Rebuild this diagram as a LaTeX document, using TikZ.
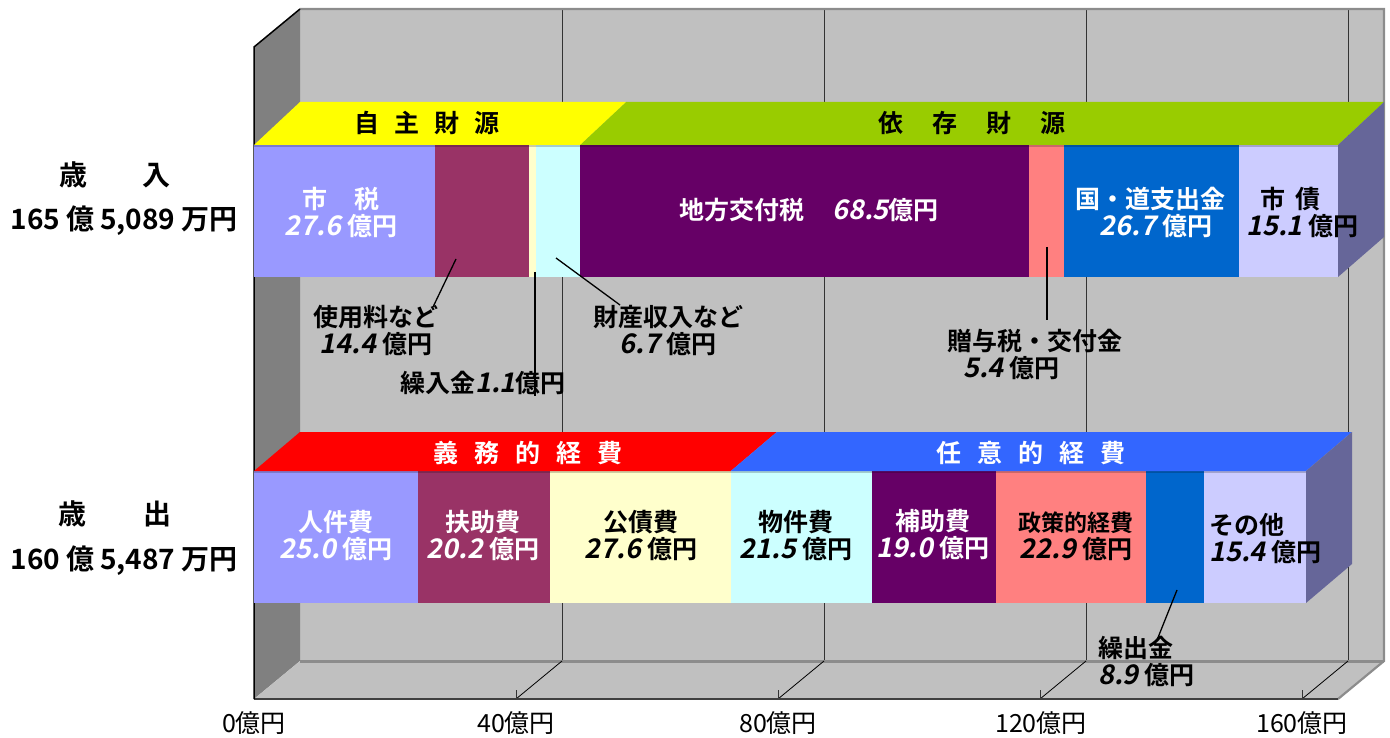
\documentclass[tikz,border=0pt]{standalone}
\usepackage{fontspec}
\newfontfamily\jpr{Noto Sans CJK JP}
\newfontfamily\jpb{Noto Sans CJK JP Bold}
\newfontfamily\jpi{Noto Sans CJK JP Bold}[FakeSlant=0.2]
\newcommand{\nm}[1]{{\jpi\fontsize{27}{27}\selectfont #1}}
\newcommand{\gp}{\hspace{6pt}}
\definecolor{cA}{HTML}{9999FF}
\definecolor{cB}{HTML}{993366}
\definecolor{cC}{HTML}{FFFFCC}
\definecolor{cD}{HTML}{CCFFFF}
\definecolor{cE}{HTML}{660066}
\definecolor{cF}{HTML}{FF8080}
\definecolor{cG}{HTML}{0066CC}
\definecolor{cH}{HTML}{CCCCFF}
\definecolor{sideface}{HTML}{666699}
\definecolor{wallc}{HTML}{C0C0C0}
\definecolor{lwallc}{HTML}{808080}
\definecolor{edgec}{HTML}{8C8C8C}
\definecolor{bandyel}{HTML}{FFFF00}
\definecolor{bandgrn}{HTML}{99CC00}
\definecolor{bandred}{HTML}{FF0000}
\definecolor{bandblu}{HTML}{3366FF}
\begin{document}
\begin{tikzpicture}[x=1pt,y=-1pt,
  lbl/.style={font=\jpb\fontsize{25}{27}\selectfont, align=center, inner sep=0pt},
  biglbl/.style={font=\jpb\fontsize{28}{30}\selectfont, inner sep=0pt},
  axlbl/.style={font=\jpr\fontsize{25}{27}\selectfont, inner sep=0pt},
  lead/.style={draw=black, line width=1.3pt},
  gridln/.style={draw=black!80, line width=1pt},
  wedge/.style={draw=edgec, line width=2.2pt}]
\useasboundingbox (0,0) rectangle (1390,738);
% back wall
\fill[wallc] (300,9) rectangle (1384,661);
\foreach \g in {562,824,1086,1348} \draw[gridln] (\g,9) -- (\g,661);
% left wall
\fill[lwallc] (254,47) -- (300,9) -- (300,661) -- (254,699) -- cycle;
% floor
\fill[wallc] (254,699) -- (300,661) -- (1384,661) -- (1338,699) -- cycle;
\draw[wedge, line width=3pt] (300,661) -- (1384,661);
\draw[wedge] (300,9) -- (1384,9) -- (1384,661) -- (1338,699);
\foreach \k in {1,...,4} {
  \draw[black, line width=0.8pt] (254+262*\k,699) -- (300+262*\k,661);
  \draw[black!80, line width=1pt] (254+262*\k,699) -- (254+262*\k,690);
}
\draw[black!75, line width=2pt] (254,699) -- (1338,699);
\draw[black, line width=1.5pt] (254,699) -- (254,47) -- (300,9);

% revenue bar
\foreach \a/\b/\c in {254/434.8/cA, 434.8/529.1/cB, 529.1/536.3/cC, 536.3/580.2/cD,
                      580.2/1028.9/cE, 1028.9/1064.2/cF, 1064.2/1239.1/cG, 1239.1/1338/cH} {
  \fill[\c] (\a,145) rectangle (\b,277);
  \draw[\c!80!black, line width=2.5pt] (\a,146.2) -- (\b,146.2);
}
\fill[bandyel] (254,145) -- (300,102) -- (626.2,102) -- (580.2,145) -- cycle;
\fill[bandgrn] (580.2,145) -- (626.2,102) -- (1384,102) -- (1338,145) -- cycle;
\fill[sideface] (1338,145) -- (1384,102) -- (1384,237) -- (1338,277) -- cycle;

% expense bar
\foreach \a/\b/\c in {254/417.8/cA, 417.8/550.1/cB, 550.1/730.8/cC, 730.8/871.7/cD,
                      871.7/996.1/cE, 996.1/1146.1/cF, 1146.1/1204.4/cG, 1204.4/1306/cH} {
  \fill[\c] (\a,471) rectangle (\b,603);
  \draw[\c!80!black, line width=2.5pt] (\a,472.2) -- (\b,472.2);
}
\fill[bandred] (254,471) -- (300,432) -- (776.8,432) -- (730.8,471) -- cycle;
\fill[bandblu] (730.8,471) -- (776.8,432) -- (1352,432) -- (1306,471) -- cycle;
\fill[sideface] (1306,471) -- (1352,432) -- (1352,564) -- (1306,603) -- cycle;

% band labels
\node[lbl] (b1) at (427,123) {自\hspace{15pt}主\hspace{15pt}財\hspace{15pt}源};
\node[lbl] (b2) at (972,123) {依\hspace{29pt}存\hspace{29pt}財\hspace{29pt}源};
\node[lbl,white] (b3) at (528,453) {義\hspace{16pt}務\hspace{16pt}的\hspace{16pt}経\hspace{16pt}費};
\node[lbl,white] (b4) at (1031,453) {任\hspace{16pt}意\hspace{16pt}的\hspace{16pt}経\hspace{16pt}費};

% left labels
\node[biglbl] (l1) at (115,175) {歳\hspace{55pt}入};
\node[biglbl] (l2) at (124,221) {165\hspace{6pt}億\hspace{6pt}5,089\hspace{6pt}万円};
\node[biglbl] (l3) at (115,514) {歳\hspace{57pt}出};
\node[biglbl] (l4) at (124,561) {160\hspace{6pt}億\hspace{6pt}5,487\hspace{6pt}万円};

% revenue labels
\node[lbl,white] (r1) at (341,212) {市\hspace{27pt}税\\\nm{27.6}\gp 億円};
\node[lbl,white] (r5) at (809,210) {地方交付税\hspace{28pt}\nm{68.5}億円};
\node[lbl,white] (r7) at (1150,212) {国・道支出金\\\hspace*{12pt}\nm{26.7}\gp 億円};
\node[lbl,align=left,anchor=west] (r8) at (1246,212) {\hspace*{14pt}市\hspace{10pt}債\\\nm{15.1}\gp 億円};

% annotations
\node[lbl] (a1) at (376,330) {使用料など\\\nm{14.4}\gp 億円};
\node[lbl] (a2) at (483,383) {繰入金\nm{1.1}億円};
\node[lbl] (a3) at (668,330) {財産収入など\\\nm{6.7}\gp 億円};
\node[lbl,align=left,anchor=west] (a4) at (947,354) {贈与税・交付金\\\hspace*{16pt}\nm{5.4}\gp 億円};
\node[lbl,align=left,anchor=west] (a5) at (1098,661) {繰出金\\\nm{8.9}\gp 億円};

\coordinate (p1a) at (456,259); \coordinate (p1b) at (433,307);
\coordinate (p2a) at (535,272); \coordinate (p2b) at (535,396);
\coordinate (p3a) at (556,258); \coordinate (p3b) at (620,305);
\coordinate (p4a) at (1047,247); \coordinate (p4b) at (1047,320);
\coordinate (p5a) at (1177,590); \coordinate (p5b) at (1157,640);
\draw[lead] (p1a) -- (p1b);
\draw[lead] (p2a) -- (p2b);
\draw[lead] (p3a) -- (p3b);
\draw[lead] (p4a) -- (p4b);
\draw[lead] (p5a) -- (p5b);

% expense labels
\node[lbl,white] (e1) at (336,535) {人件費\\\nm{25.0}\gp 億円};
\node[lbl,white] (e2) at (483,535) {扶助費\\\nm{20.2}\gp 億円};
\node[lbl] (e3) at (641,535) {公債費\\\nm{27.6}\gp 億円};
\node[lbl] (e4) at (796,535) {物件費\\\nm{21.5}\gp 億円};
\node[lbl,white] (e5) at (933,534) {補助費\\\nm{19.0}\gp 億円};
\node[lbl] (e6) at (1076,536) {{\fontsize{23}{27}\selectfont 政策的経費}\\\nm{22.9}\gp 億円};
\node[lbl,align=left,anchor=west] (e8) at (1209,539) {その他\\\nm{15.4}\gp 億円};

% axis labels
\node[axlbl] (t0) at (254,723) {0億円};
\node[axlbl] (t1) at (516,723) {40億円};
\node[axlbl] (t2) at (778,723) {80億円};
\node[axlbl] (t3) at (1041,723) {120億円};
\node[axlbl] (t4) at (1302,723) {160億円};
\end{tikzpicture}
\end{document}
